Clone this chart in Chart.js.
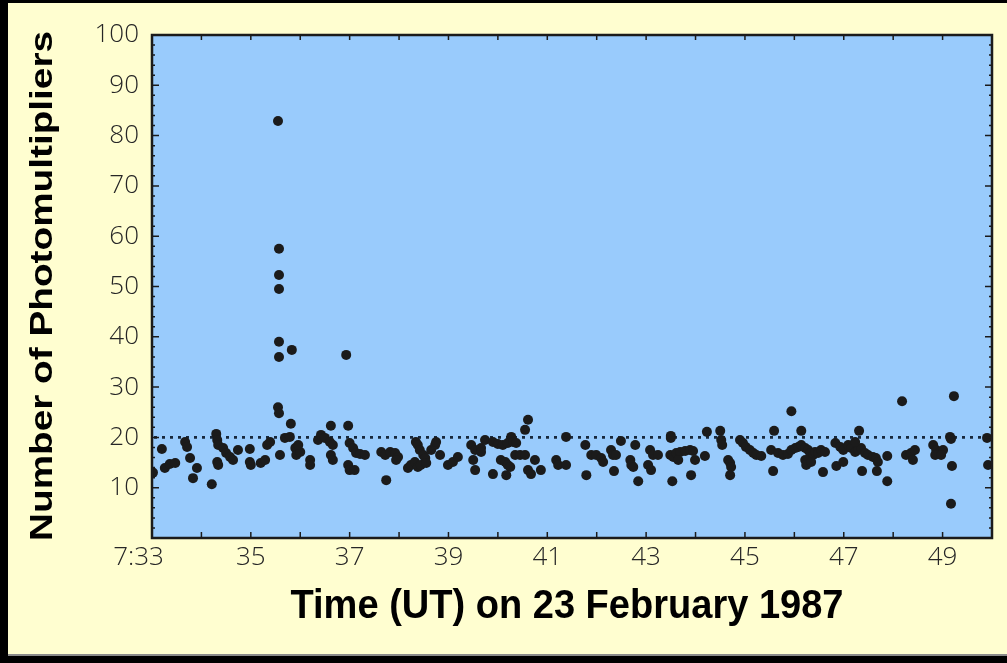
<!DOCTYPE html>
<html>
<head>
<meta charset="utf-8">
<title>Number of Photomultipliers, 23 February 1987</title>
<script src="https://cdn.jsdelivr.net/npm/chart.js@4/dist/chart.umd.min.js"></script>
<style>
  html, body { margin: 0; padding: 0; background: #000; }
  #wrap { width: 1007px; height: 663px; }
  canvas { display: block; }
</style>
</head>
<body>
<div id="wrap"><canvas id="c" width="1007" height="663"></canvas></div>
<script>
// Event times, minutes after 7:00 UT
const eventMinutes = [
  33.02, 33.2, 33.26, 33.36, 33.47, 33.67, 33.71, 33.77, 33.83, 33.91,
  34.21, 34.3, 34.32, 34.34, 34.32, 34.34, 34.44, 34.5, 34.58, 34.64,
  34.74, 34.98, 34.98, 35.0, 35.2, 35.29, 35.33, 35.39, 35.55, 35.57,
  35.59, 35.69, 35.81, 35.79, 35.9, 35.92, 36.0, 35.96, 36.2, 36.2,
  36.36,
  35.55, 35.57, 35.57, 35.57, 35.57, 35.83, 35.57, 36.93,
  36.62, 36.97, 36.42, 36.5, 36.6, 36.66, 36.62, 36.66, 37.0, 37.07,
  37.13, 37.21, 37.31, 36.97, 37.0, 37.1, 37.64, 37.72, 37.82, 37.92,
  37.98, 37.94, 37.74, 38.18, 38.24, 38.32, 38.34, 38.38, 38.42, 38.49,
  38.53, 38.38, 38.44, 38.55, 38.65, 38.73, 38.75, 38.83, 38.99, 39.09,
  39.19, 39.46, 39.54, 39.66, 39.66, 39.5, 39.54, 39.74,
  40.61, 40.55, 40.27, 39.9, 40.0, 40.1, 40.2, 40.31, 40.37, 40.06,
  40.15, 40.2, 40.25, 40.35, 40.45, 40.55, 39.9, 40.17, 40.61, 40.67,
  40.75, 40.87, 41.18, 41.22, 41.38, 41.38, 41.77, 41.79, 41.89, 41.99,
  42.09, 42.13, 42.29, 42.33, 42.39, 42.35, 42.49, 42.68, 42.7, 42.74,
  42.78, 42.84, 43.08, 43.14, 43.04, 43.1,
  43.5, 43.5, 43.24, 43.49, 43.55, 43.61, 43.69, 43.79, 43.89, 43.95,
  43.65, 43.53, 43.91, 43.99, 44.19, 44.23, 44.5, 44.52, 44.54, 44.66,
  44.7, 44.72, 44.7, 44.9, 44.96, 45.02, 45.1, 45.17, 45.23, 45.33,
  45.59, 45.53, 45.57, 45.94, 45.67, 45.77, 45.87, 45.94, 46.02, 46.08,
  46.14, 46.22, 46.28, 46.32, 46.38, 46.42, 46.48, 46.54, 46.62, 46.14,
  46.22, 46.24, 46.34, 46.58,
  48.18, 49.23, 47.31, 46.83, 46.93, 46.99, 47.09, 47.15, 47.23, 47.29,
  47.35, 47.43, 47.49, 47.59, 47.65, 47.69, 47.23, 46.85, 46.99, 47.37,
  47.67, 47.88, 47.88, 48.26, 48.36, 48.44, 48.4, 48.81, 48.87, 48.95,
  49.01, 48.85, 48.97, 49.15, 49.17, 49.19, 49.17, 49.9, 49.92
];

// Photomultipliers hit in each event
const hitCounts = [
  13, 17.7, 13.9, 14.7, 14.9, 19.1, 18.1, 15.9, 11.9, 13.9,
  10.7, 20.7, 19.5, 18.5, 15.1, 14.5, 17.9, 16.9, 16.1, 15.5,
  17.5, 17.7, 15.1, 14.5, 14.9, 15.5, 18.5, 19.1, 26.0, 24.8,
  16.5, 19.9, 22.7, 20.1, 17.9, 16.5, 17.1, 18.5, 15.5, 14.5,
  19.5,
  82.9, 57.5, 52.3, 49.5, 39, 37.4, 36, 36.4,
  22.3, 22.3, 20.5, 19.9, 19.1, 18.5, 16.5, 15.5, 18.9, 17.9,
  16.9, 16.7, 16.5, 14.5, 13.5, 13.5, 17.1, 16.5, 17.1, 16.9,
  16.1, 15.5, 11.5, 13.9, 14.5, 15.1, 19.1, 18.5, 17.5, 16.5,
  15.9, 14.1, 14.5, 14.9, 17.5, 18.5, 19.1, 16.5, 14.5, 15.1,
  16.1, 18.5, 17.5, 17.9, 17.1, 15.5, 13.5, 19.5,
  23.5, 21.5, 20.1, 19.1, 18.7, 18.5, 18.9, 19.1, 18.9, 15.5,
  15.1, 14.5, 14.1, 16.5, 16.5, 16.5, 12.7, 12.5, 13.5, 12.7,
  15.5, 13.5, 15.5, 14.5, 14.5, 20.1, 18.5, 12.5, 16.5, 16.5,
  15.9, 15.1, 17.5, 16.5, 16.5, 13.3, 19.3, 15.5, 14.5, 14.1,
  18.5, 11.3, 17.5, 16.5, 14.5, 13.5,
  20.3, 19.9, 16.5, 16.5, 16.1, 16.9, 17.1, 17.3, 17.5, 17.3,
  15.5, 11.3, 12.5, 15.5, 16.3, 21.1, 21.3, 19.5, 18.5, 15.5,
  14.9, 14.1, 12.5, 19.5, 18.9, 18.1, 17.5, 16.9, 16.5, 16.3,
  21.3, 17.5, 13.3, 25.2, 16.9, 16.5, 16.7, 17.5, 17.9, 18.1,
  18.5, 17.9, 17.5, 16.9, 16.5, 17.1, 16.9, 17.5, 17.1, 21.3,
  15.5, 14.5, 15.1, 13.1,
  27.2, 28.2, 21.3, 18.9, 18.1, 17.5, 18.5, 17.9, 17.1, 17.5,
  17.9, 16.9, 16.5, 16.1, 15.9, 15.1, 19.1, 14.3, 15.1, 13.3,
  13.3, 16.3, 11.3, 16.5, 16.9, 17.5, 15.5, 18.5, 17.5, 17.1,
  17.5, 16.5, 16.5, 20.1, 19.7, 14.3, 6.8, 19.9, 14.5
];

// Labelled minutes on the time axis and their text
const xTickValues = [33, 35, 37, 39, 41, 43, 45, 47, 49];
const xTickLabels = ['7:33    ', '35', '37', '39', '41', '43', '45', '47', '49'];

// Background level marked by the dotted line
const thresholdLevel = 20;

const points = eventMinutes.map((t, i) => ({ x: t, y: hitCounts[i] }));

const CREAM = '#FFFED0';
const PLOT_BLUE = '#99CBFC';
const INK = '#1b1b1b';
const TICK_FONT = '"Open Sans", "Liberation Sans", sans-serif';

const framePlugin = {
  id: 'frame',
  beforeDraw(chart) {
    const ctx = chart.ctx;
    const { left, top, right, bottom } = chart.chartArea;
    ctx.save();
    ctx.fillStyle = '#000';
    ctx.fillRect(0, 0, chart.width, chart.height);
    ctx.fillStyle = CREAM;
    ctx.fillRect(8, 3, chart.width - 8, 651);
    ctx.fillStyle = '#8a8a8a';
    ctx.fillRect(8, 654, chart.width - 8, 2);
    ctx.fillStyle = PLOT_BLUE;
    ctx.fillRect(left, top, right - left, bottom - top);
    ctx.restore();
  },
  beforeDatasetsDraw(chart) {
    const ctx = chart.ctx;
    const { left, right } = chart.chartArea;
    const y = chart.scales.y.getPixelForValue(thresholdLevel);
    ctx.save();
    ctx.strokeStyle = '#17283c';
    ctx.lineWidth = 2.6;
    ctx.setLineDash([3, 5]);
    ctx.beginPath();
    ctx.moveTo(left + 2, y);
    ctx.lineTo(right, y);
    ctx.stroke();
    ctx.restore();
  },
  afterDraw(chart) {
    const ctx = chart.ctx;
    const { left, top, right, bottom } = chart.chartArea;
    const xs = chart.scales.x, ys = chart.scales.y;
    ctx.save();
    // inward tick marks on all four sides
    ctx.strokeStyle = INK;
    ctx.lineWidth = 1.5;
    ctx.beginPath();
    for (let m = 34; m < 50; m++) {
      const px = xs.getPixelForValue(m);
      ctx.moveTo(px, bottom); ctx.lineTo(px, bottom - 6);
      ctx.moveTo(px, top); ctx.lineTo(px, top + 5);
    }
    for (let v = 2; v < 100; v += 2) {
      const py = ys.getPixelForValue(v);
      const len = v % 10 === 0 ? 7 : 3;
      ctx.moveTo(left, py); ctx.lineTo(left + len, py);
      ctx.moveTo(right, py); ctx.lineTo(right - len, py);
    }
    ctx.stroke();
    // plot frame
    ctx.lineWidth = 2.5;
    ctx.strokeRect(left, top, right - left, bottom - top);

    // axis titles
    ctx.fillStyle = '#000';
    ctx.textAlign = 'center';
    ctx.textBaseline = 'middle';
    ctx.font = 'bold 31px "Liberation Sans", Arial, sans-serif';
    const yTitle = 'Number of Photomultipliers';
    const wy = ctx.measureText(yTitle).width;
    ctx.save();
    ctx.translate(43, 286);
    ctx.rotate(-Math.PI / 2);
    ctx.scale(510 / wy, 1);
    ctx.fillText(yTitle, 0, 0);
    ctx.restore();

    ctx.font = 'bold 41px "Liberation Sans", Arial, sans-serif';
    ctx.fillText('Time (UT) on 23 February 1987', 567, 607, 553);
    ctx.restore();
  }
};

new Chart(document.getElementById('c'), {
  type: 'scatter',
  data: {
    datasets: [{
      data: points,
      pointRadius: 5,
      pointHoverRadius: 5,
      backgroundColor: INK,
      borderWidth: 0
    }]
  },
  options: {
    responsive: false,
    devicePixelRatio: 1,
    animation: false,
    layout: { padding: { left: 0, top: 35, right: 15, bottom: 0 } },
    plugins: { legend: { display: false }, tooltip: { enabled: false } },
    scales: {
      x: {
        type: 'linear',
        min: 33,
        max: 50,
        afterFit(scale) { scale.height = 125; },
        afterBuildTicks(scale) { scale.ticks = xTickValues.map(v => ({ value: v })); },
        grid: { display: false, drawTicks: false },
        border: { display: false },
        ticks: {
          autoSkip: false,
          maxRotation: 0,
          padding: 4,
          color: '#262626',
          font: { family: TICK_FONT, size: 26, weight: 300 },
          callback(value) {
            const i = xTickValues.indexOf(value);
            return i >= 0 ? xTickLabels[i] : '';
          }
        }
      },
      y: {
        min: 0,
        max: 100,
        afterFit(scale) { scale.width = 152; },
        grid: { display: false, drawTicks: false },
        border: { display: false },
        ticks: {
          stepSize: 10,
          padding: 13,
          color: '#262626',
          font: { family: TICK_FONT, size: 26, weight: 300 },
          callback(value) { return value === 0 ? '' : value; }
        }
      }
    }
  },
  plugins: [framePlugin]
});
</script>
</body>
</html>
